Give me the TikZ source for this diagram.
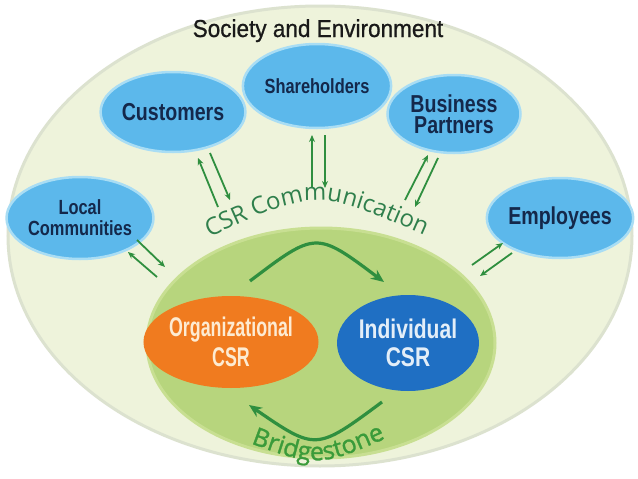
\documentclass[tikz,border=0pt]{standalone}
\usepackage{fontspec}
\setmainfont{Liberation Sans}
\newfontfamily\condB[FakeStretch=0.8]{Liberation Sans}
\newfontfamily\narrowB[FakeStretch=0.66]{Liberation Sans}
\newfontfamily\indB[FakeStretch=0.78]{Liberation Sans}
\newfontfamily\titlefont[FakeStretch=0.92,FakeBold=0.8]{Liberation Sans}
\newfontfamily\humanist{Open Sans}
\newfontfamily\humanistB[FakeBold=1.2]{Open Sans}
\usetikzlibrary{shapes.geometric,arrows.meta,decorations.text}
\definecolor{outerfill}{HTML}{EEF3DB}
\definecolor{outerrim}{HTML}{DCE2CF}
\definecolor{innerfill}{HTML}{B7D57D}
\definecolor{innerrim}{HTML}{C8DF92}
\definecolor{satfill}{HTML}{5CB8EB}
\definecolor{satrim}{HTML}{A9DDF4}
\definecolor{navy}{HTML}{14284B}
\definecolor{orgfill}{HTML}{F07B1F}
\definecolor{indfill}{HTML}{1F6FC3}
\definecolor{arrowgreen}{HTML}{2F8F3F}
\definecolor{csrgreen}{HTML}{2F7F4C}
\definecolor{bsgreen}{HTML}{3A9B3A}
\definecolor{orgtext}{HTML}{FDEBD2}
\definecolor{indtext}{HTML}{E3EEF8}
\tikzset{
  sat/.style={ellipse, fill=satfill, draw=satrim, line width=2.5pt, inner sep=0pt, text=navy, align=center},
  comm/.style={draw=arrowgreen, line width=1.8pt, -{Stealth[length=7pt,width=6pt]}},
  cyc/.style={draw=arrowgreen, line width=3.2pt, -{Stealth[length=13pt,width=11pt]}},
}
\begin{document}
\begin{tikzpicture}[x=1pt,y=-1pt]
\useasboundingbox (0,0) rectangle (638,479);
\fill[white] (0,0) rectangle (638,479);
% outer and inner areas
\node[ellipse, draw=outerrim, line width=3pt, fill=outerfill, minimum width=624pt, minimum height=460pt, inner sep=0pt] (soc) at (320,236) {};
\node[ellipse, draw=innerrim, line width=3pt, fill=innerfill, minimum width=348pt, minimum height=230pt, inner sep=0pt] (bs) at (321,343) {};
% title
\node[font=\titlefont\fontsize{24.5}{24}\selectfont, text=black!90, anchor=base] (title) at (318,37) {Society and Environment};
% stakeholders
\node[sat, minimum width=117pt, minimum height=80pt, font=\condB\bfseries\fontsize{24.5}{22}\selectfont] (cust) at (173,112) {Customers};
\node[sat, minimum width=120pt, minimum height=84pt, font=\condB\bfseries\fontsize{20.5}{20}\selectfont] (share) at (317,86) {Shareholders};
\node[sat, minimum width=133pt, minimum height=78pt, font=\condB\bfseries\fontsize{24.5}{21}\selectfont] (bp) at (454,114) {Business\\Partners};
\node[sat, minimum width=120pt, minimum height=82pt, font=\condB\bfseries\fontsize{20.5}{21}\selectfont] (local) at (80,218) {Local\\Communities};
\node[sat, minimum width=120pt, minimum height=80pt, font=\condB\bfseries\fontsize{24.5}{22}\selectfont] (emp) at (560,218) {Employees};
% CSR ellipses
\node[ellipse, fill=orgfill, inner sep=0pt, minimum width=142pt, minimum height=92pt, text=orgtext, align=center, font=\narrowB\bfseries\fontsize{27}{30}\selectfont] (org) at (231,342) {Organizational\\CSR};
\node[ellipse, fill=indfill, inner sep=0pt, minimum width=142pt, minimum height=96pt, text=indtext, align=center, font=\indB\bfseries\fontsize{27}{28}\selectfont] (ind) at (408,343) {Individual\\CSR};
% communication arrows
\coordinate (cuA) at (218,207); \coordinate (cuB) at (198,158);
\coordinate (cuC) at (210,153); \coordinate (cuD) at (230,200);
\coordinate (shA) at (312,188); \coordinate (shB) at (312,135);
\coordinate (shC) at (325,135); \coordinate (shD) at (325,188);
\coordinate (bpA) at (405,200); \coordinate (bpB) at (428,155);
\coordinate (bpC) at (438,158); \coordinate (bpD) at (415,207);
\coordinate (loA) at (137,240); \coordinate (loB) at (165,267);
\coordinate (loC) at (157,277); \coordinate (loD) at (128,252);
\coordinate (emA) at (472,265); \coordinate (emB) at (503,243);
\coordinate (emC) at (512,253); \coordinate (emD) at (480,276);
\draw[comm] (cuA) -- (cuB);
\draw[comm] (cuC) -- (cuD);
\draw[comm] (shA) -- (shB);
\draw[comm] (shC) -- (shD);
\draw[comm] (bpA) -- (bpB);
\draw[comm] (bpC) -- (bpD);
\draw[comm] (loA) -- (loB);
\draw[comm] (loC) -- (loD);
\draw[comm] (emA) -- (emB);
\draw[comm] (emC) -- (emD);
% cycle arrows
\coordinate (tS) at (250,281); \coordinate (tE) at (384,282);
\coordinate (bS) at (382,402); \coordinate (bE) at (249,405);
\draw[cyc] (tS) .. controls (316,231) .. (tE);
\draw[cyc] (bS) .. controls (316,451) .. (bE);
% curved texts
\path[decorate, decoration={text along path, text color=csrgreen, text align=center,
  text={|\humanist\fontsize{24}{24}\selectfont|CSR Communication}}]
  (204,240) .. controls (316,188) .. (430,238);
\path[decorate, decoration={text along path, text color=bsgreen, text align=center,
  text={|\humanistB\fontsize{25}{25}\selectfont|Bridgestone}}]
  (234,437) .. controls (318,469) .. (402,431);
\end{tikzpicture}
\end{document}
